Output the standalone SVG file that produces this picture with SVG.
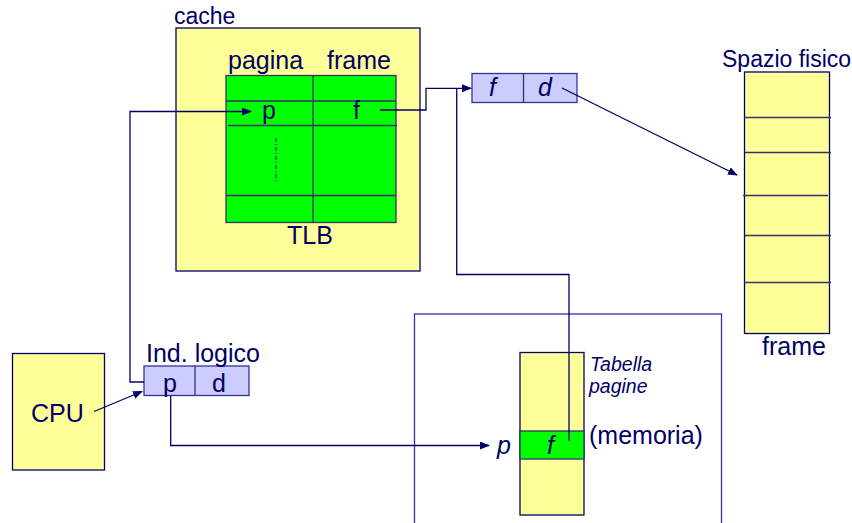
<svg xmlns="http://www.w3.org/2000/svg" width="852" height="523" viewBox="0 0 852 523">
<defs>
<style>
text{font-family:"Liberation Sans",Arial,sans-serif;fill:#000066}
.lbl{font-size:25px}
.sm{font-size:23px}
.it{font-style:italic}
.yel{fill:#ffff99;stroke:#000066;stroke-width:1.3}
.grn{fill:#00ff00;stroke:#333366;stroke-width:1.3}
.lil{fill:#ccccff;stroke:#333399;stroke-width:1.3}
.ln{fill:none;stroke:#333366;stroke-width:1.3}
.con{fill:none;stroke:#000066;stroke-width:1.3}
</style>
<marker id="ah" markerWidth="10" markerHeight="8" refX="9" refY="4" orient="auto" markerUnits="userSpaceOnUse">
<path d="M0,0 L10,4 L0,8 Z" fill="#000066"/>
</marker>
</defs>
<rect width="852" height="523" fill="#ffffff"/>

<g id="cache">
<rect class="yel" x="176" y="28" width="244" height="243"/>
<text class="sm" x="174" y="24">cache</text>
</g>

<g id="tlb">
<rect class="grn" x="226" y="75.5" width="170" height="147"/>
<line class="ln" x1="313" y1="75.5" x2="313" y2="222.5"/>
<line class="ln" x1="226" y1="101" x2="396" y2="101"/>
<line class="ln" x1="228" y1="125.5" x2="397" y2="125.5"/>
<line class="ln" x1="226" y1="195.5" x2="396" y2="195.5"/>
<line x1="276" y1="138" x2="276" y2="183" stroke="#000066" stroke-width="1" stroke-dasharray="4,2,1,2"/>
<text class="lbl" x="228" y="69">pagina</text>
<text class="lbl" x="327" y="69">frame</text>
<text class="lbl" x="262" y="119">p</text>
<text class="lbl" x="353" y="119">f</text>
<text class="lbl" x="287" y="244">TLB</text>
</g>

<g id="fd">
<rect class="lil" x="472" y="73.5" width="105" height="29"/>
<line class="ln" x1="523.5" y1="73.5" x2="523.5" y2="102.5"/>
<text class="lbl it" x="489" y="96">f</text>
<text class="lbl it" x="538" y="96">d</text>
</g>

<g id="spazio">
<rect class="yel" x="744.5" y="72" width="85" height="261.5"/>
<line class="ln" x1="745" y1="117.5" x2="831" y2="117.5"/>
<line class="ln" x1="745" y1="152.5" x2="831" y2="152.5"/>
<line class="ln" x1="743" y1="195.5" x2="828" y2="195.5"/>
<line class="ln" x1="745" y1="235.5" x2="831" y2="235.5"/>
<line class="ln" x1="745" y1="282.5" x2="831" y2="282.5"/>
<text class="sm" x="722" y="67">Spazio fisico</text>
<text class="lbl" x="762" y="355">frame</text>
</g>

<g id="cpu">
<rect class="yel" x="12.5" y="353.5" width="92" height="116.5"/>
<text class="lbl" x="31" y="422">CPU</text>
</g>

<g id="indlogico">
<rect class="lil" x="144" y="366" width="105" height="29.5"/>
<line class="ln" x1="195" y1="366" x2="195" y2="395.5"/>
<text class="lbl" x="146" y="362">Ind. logico</text>
<text class="lbl" x="163" y="392">p</text>
<text class="lbl" x="212" y="392">d</text>
</g>

<g id="memoria">
<rect x="414.5" y="314" width="307" height="230" fill="none" stroke="#333399" stroke-width="1.3"/>
<rect class="yel" x="520" y="352.5" width="64" height="162.5"/>
<rect class="grn" x="520" y="431" width="64" height="28"/>
<text class="lbl it" x="547" y="454">f</text>
<text class="lbl it" x="497" y="454">p</text>
<text class="it" x="590" y="371" font-size="19.5">Tabella</text>
<text class="it" x="589" y="393" font-size="19.5">pagine</text>
<text class="lbl" x="589" y="444">(memoria)</text>
</g>

<g id="connectors">
<path class="con" d="M144,382 H130 V111.5 H251" marker-end="url(#ah)"/>
<path class="con" d="M380,110 H426 V88.3 H471" marker-end="url(#ah)"/>
<path class="con" d="M569,441 V274.5 H456.7 V88.3"/>
<path class="con" d="M562,88 L737,175" marker-end="url(#ah)"/>
<path class="con" d="M94,411.5 L142,391.5" marker-end="url(#ah)"/>
<path class="con" d="M170.7,396 V445.5 H489" marker-end="url(#ah)"/>
</g>
</svg>
